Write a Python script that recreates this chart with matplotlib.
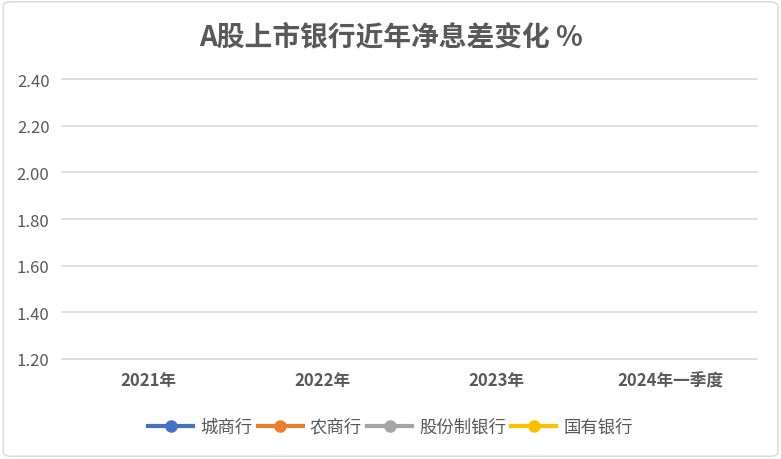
import matplotlib
matplotlib.use("Agg")
import matplotlib.pyplot as plt
from matplotlib.lines import Line2D
from matplotlib.patches import FancyBboxPatch

plt.rcParams['font.family'] = ['Noto Sans CJK SC', 'DejaVu Sans']

# chart content
title = "A股上市银行近年净息差变化 %"
categories = ["2021年", "2022年", "2023年", "2024年一季度"]
y_ticks = [1.20, 1.40, 1.60, 1.80, 2.00, 2.20, 2.40]
series_names = ["城商行", "农商行", "股份制银行", "国有银行"]
series_colors = ["#4472C4", "#ED7D31", "#A5A5A5", "#FFC000"]

fig = plt.figure(figsize=(7.81, 4.6), dpi=100)
fig.patch.set_facecolor("white")

# thin rounded frame like the spreadsheet chart area
border = FancyBboxPatch((0.004, 0.006), 0.992, 0.988,
                        boxstyle="round,pad=0,rounding_size=0.01",
                        transform=fig.transFigure, fill=False,
                        edgecolor="#D9D9D9", linewidth=1.0)
fig.patches.append(border)

ax = fig.add_axes([0.0794, 0.2174, 0.8896, 0.6086])
ax.set_xlim(-0.5, len(categories) - 0.5)
ax.set_ylim(y_ticks[0], y_ticks[-1])

ax.set_yticks(y_ticks)
ax.set_yticklabels(["%.2f" % v for v in y_ticks], fontsize=12, color="#595959")
ax.set_xticks(range(len(categories)))
ax.set_xticklabels(categories, fontsize=12, fontweight="bold", color="#595959")
ax.tick_params(axis="both", length=0)
ax.tick_params(axis="y", pad=9)
ax.tick_params(axis="x", pad=9)

ax.grid(axis="y", color="#D9D9D9", linewidth=1.2)
for gl in ax.get_ygridlines():
    gl.set_clip_on(False)
ax.set_axisbelow(True)
for s in ax.spines.values():
    s.set_visible(False)

fig.text(0.5, 0.918, title, ha="center", va="center", fontsize=20,
         fontweight="bold", color="#595959")

handles = [Line2D([0], [0], color=c, linewidth=3, marker="o", markersize=8,
                  markerfacecolor=c, markeredgecolor=c)
           for c in series_colors]
fig.legend(handles, series_names, loc="center", bbox_to_anchor=(0.5, 0.07),
           ncol=4, frameon=False, fontsize=12.5, handlelength=2.6,
           handletextpad=0.4, columnspacing=0.3,
           labelcolor="#595959")

fig.savefig("out.png", dpi=100)
